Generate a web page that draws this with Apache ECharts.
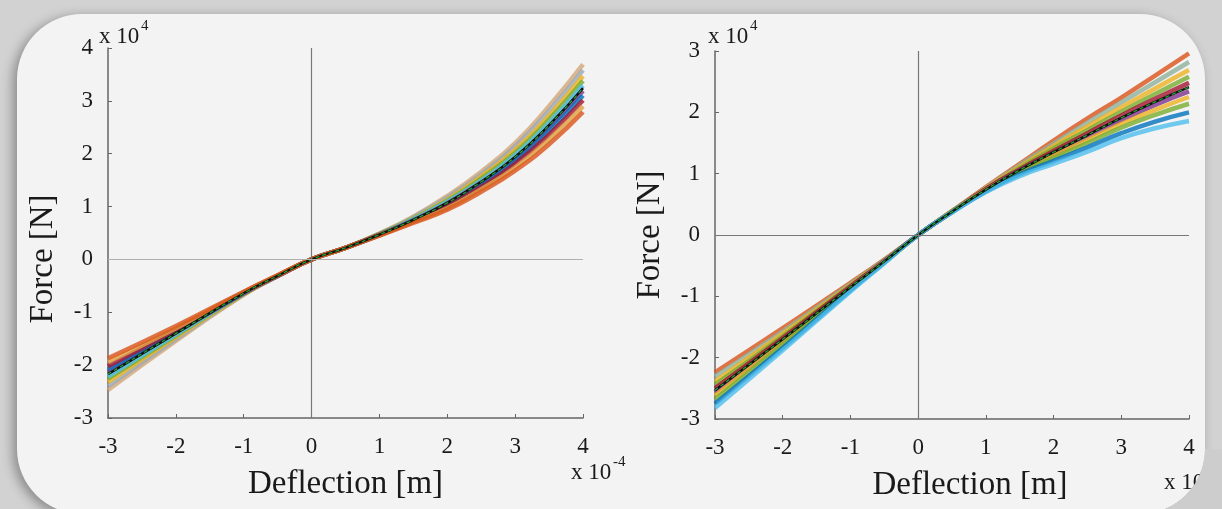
<!DOCTYPE html>
<html>
<head>
<meta charset="utf-8">
<script src="https://cdn.jsdelivr.net/npm/echarts@6/dist/echarts.min.js"></script>
<style>
    html, body { margin: 0; padding: 0; background: #d2d2d2; }
    #main { width: 1222px; height: 509px; }
</style>
</head>
<body>
<div id="main"></div>
<script>
// deflection samples (x 10^-4 m), shared by every curve
var deflection = [-3, -2, -1, -0.5, 0, 0.5, 1, 1.5, 2, 2.5, 3, 3.5, 4];

// left plot, force (x 10^4 N)
var leftMean = [-2.17, -1.40, -0.64, -0.31, 0, 0.22, 0.47, 0.75, 1.07, 1.47, 1.94, 2.54, 3.24];
var leftRuns = [
    [-2.47, -1.54, -0.67, -0.32, 0, 0.22, 0.49, 0.81, 1.20, 1.66, 2.20, 2.90, 3.69],
    [-2.40, -1.51, -0.66, -0.32, 0, 0.22, 0.48, 0.80, 1.17, 1.61, 2.14, 2.81, 3.58],
    [-2.32, -1.47, -0.66, -0.31, 0, 0.22, 0.48, 0.78, 1.13, 1.57, 2.07, 2.72, 3.47],
    [-2.26, -1.44, -0.65, -0.31, 0, 0.22, 0.48, 0.77, 1.11, 1.53, 2.02, 2.65, 3.38],
    [-2.21, -1.42, -0.64, -0.31, 0, 0.22, 0.47, 0.76, 1.09, 1.49, 1.97, 2.58, 3.29],
    [-2.13, -1.38, -0.64, -0.31, 0, 0.22, 0.47, 0.74, 1.06, 1.45, 1.91, 2.50, 3.19],
    [-2.08, -1.36, -0.63, -0.31, 0, 0.22, 0.46, 0.73, 1.03, 1.41, 1.86, 2.43, 3.10],
    [-2.02, -1.33, -0.62, -0.31, 0, 0.22, 0.46, 0.72, 1.01, 1.37, 1.81, 2.36, 3.01],
    [-1.94, -1.30, -0.62, -0.30, 0, 0.22, 0.46, 0.71, 0.97, 1.33, 1.74, 2.27, 2.90],
    [-1.87, -1.26, -0.61, -0.30, 0, 0.22, 0.45, 0.69, 0.94, 1.28, 1.68, 2.18, 2.79]
];

// right plot, force (x 10^4 N)
var rightMean = [-2.53, -1.70, -0.85, -0.43, 0, 0.38, 0.74, 1.06, 1.35, 1.63, 1.91, 2.17, 2.41];
var rightRuns = [
    [-2.24, -1.52, -0.78, -0.40, 0, 0.39, 0.78, 1.16, 1.54, 1.90, 2.24, 2.60, 2.96],
    [-2.31, -1.57, -0.80, -0.41, 0, 0.39, 0.77, 1.14, 1.49, 1.83, 2.16, 2.49, 2.82],
    [-2.39, -1.61, -0.82, -0.42, 0, 0.38, 0.76, 1.11, 1.45, 1.77, 2.08, 2.39, 2.69],
    [-2.44, -1.65, -0.83, -0.42, 0, 0.38, 0.75, 1.09, 1.41, 1.71, 2.01, 2.30, 2.58],
    [-2.50, -1.68, -0.84, -0.43, 0, 0.38, 0.75, 1.07, 1.37, 1.66, 1.95, 2.22, 2.48],
    [-2.56, -1.72, -0.86, -0.43, 0, 0.38, 0.74, 1.05, 1.33, 1.60, 1.87, 2.12, 2.34],
    [-2.62, -1.75, -0.87, -0.44, 0, 0.38, 0.73, 1.03, 1.29, 1.55, 1.81, 2.04, 2.25],
    [-2.68, -1.79, -0.89, -0.45, 0, 0.38, 0.72, 1.01, 1.26, 1.50, 1.75, 1.96, 2.14],
    [-2.75, -1.84, -0.90, -0.45, 0, 0.37, 0.71, 0.99, 1.21, 1.43, 1.66, 1.85, 2.00],
    [-2.82, -1.88, -0.92, -0.46, 0, 0.37, 0.70, 0.96, 1.16, 1.36, 1.58, 1.74, 1.86]
];

// line colours (top of the band first)
var leftColors = ['#d2a676', '#9aa9b8', '#EDB120', '#77AC30', '#4DBEEE', '#7E2F8E', '#0072BD', '#A2142F', '#e0a040', '#D95319'];
var rightColors = ['#D95319', '#8fb09a', '#EDB120', '#77AC30', '#A2142F', '#7E2F8E', '#EDB120', '#77AC30', '#0072BD', '#4DBEEE'];

var serif = "'Liberation Serif', 'DejaVu Serif', serif";
var ink = '#1a1a1a';

function toPoints(ys) {
    return deflection.map(function (x, i) { return [x, ys[i]]; });
}

function xAxisFor(idx, namePad) {
    return {
        gridIndex: idx,
        type: 'value',
        min: -3,
        max: 4,
        interval: 1,
        name: 'Deflection [m]',
        nameLocation: 'middle',
        nameGap: 50,
        nameTextStyle: { fontFamily: serif, fontSize: 33, color: ink, padding: namePad },
        axisLine: { onZero: false, lineStyle: { color: '#666', width: 1.5 } },
        axisTick: { inside: true, length: 4, lineStyle: { color: '#666' } },
        axisLabel: { fontFamily: serif, fontSize: 23, color: ink, margin: 17 },
        splitLine: { show: false }
    };
}

function yAxisFor(idx, min, max, namePad) {
    return {
        gridIndex: idx,
        type: 'value',
        min: min,
        max: max,
        interval: 1,
        name: 'Force [N]',
        nameLocation: 'middle',
        nameGap: 48,
        nameTextStyle: { fontFamily: serif, fontSize: 33, color: ink, padding: namePad },
        axisLine: { onZero: false, show: true, lineStyle: { color: '#666', width: 1.5 } },
        axisTick: { inside: true, length: 4, lineStyle: { color: '#666' } },
        axisLabel: { fontFamily: serif, fontSize: 23, color: ink, margin: 15 },
        splitLine: { show: false }
    };
}

var series = [];

function addPlot(idx, runs, colors, mean, hColor, vColor) {
    runs.forEach(function (run, i) {
        var s = {
            type: 'line',
            xAxisIndex: idx,
            yAxisIndex: idx,
            data: toPoints(run),
            smooth: true,
            symbol: 'none',
            silent: true,
            lineStyle: { color: colors[i], width: 4.5, opacity: 0.8 }
        };
        if (i === 0) {
            s.markLine = {
                silent: true,
                symbol: 'none',
                label: { show: false },
                data: [
                    { xAxis: 0, lineStyle: { color: vColor, width: 1.2, type: 'solid' } },
                    { yAxis: 0, lineStyle: { color: hColor, width: 1.2, type: 'solid' } }
                ]
            };
        }
        series.push(s);
    });
    // mean curve: black, with a green dashed line on top
    series.push({
        type: 'line', xAxisIndex: idx, yAxisIndex: idx,
        data: toPoints(mean), smooth: true, symbol: 'none', silent: true,
        lineStyle: { color: '#111', width: 2.5 }
    });
    series.push({
        type: 'line', xAxisIndex: idx, yAxisIndex: idx,
        data: toPoints(mean), smooth: true, symbol: 'none', silent: true,
        lineStyle: { color: '#1fa830', width: 1.2, type: [4, 3] }
    });
}

addPlot(0, leftRuns, leftColors, leftMean, '#b0b0b0', '#777');
addPlot(1, rightRuns, rightColors, rightMean, '#777', '#777');

function sciText(x, y, exp) {
    return [
        { type: 'text', z: 10, style: { text: 'x 10', x: x, y: y, font: '23px ' + serif, fill: ink, verticalAlign: 'middle' } },
        { type: 'text', z: 10, style: { text: exp, x: x + 42, y: y - 11, font: '15px ' + serif, fill: ink, verticalAlign: 'middle' } }
    ];
}

// outside of the panel's bottom-right rounded corner
var cornerMask = [[1222, 449], [1222, 509]];
for (var a = 90; a >= 0; a -= 5) {
    var rad = a * Math.PI / 180;
    cornerMask.push([1140 + 65 * Math.cos(rad), 449 + 65 * Math.sin(rad)]);
}

var chart = echarts.init(document.getElementById('main'));

var option = {
    animation: false,
    backgroundColor: '#d2d2d2',
    grid: [
        { left: 108, top: 48, width: 475, height: 370 },
        { left: 715, top: 51, width: 474, height: 368 }
    ],
    xAxis: [xAxisFor(0, [0, 0, 0, 0]), xAxisFor(1, [0, 0, 0, 36])],
    yAxis: [yAxisFor(0, -3, 4, [0, 52, 0, 0]), yAxisFor(1, -3, 3, [0, 0, 0, 0])],
    graphic: [
        {
            type: 'rect', z: -10, silent: true,
            shape: { x: 17, y: 14, width: 1188, height: 500, r: 65 },
            style: { fill: '#f3f3f3', shadowBlur: 12, shadowOffsetX: -4, shadowOffsetY: 3, shadowColor: 'rgba(0,0,0,0.35)' }
        },
        // the corner hides part of the right exponent label
        {
            type: 'polygon', z: 20, silent: true,
            shape: { points: cornerMask },
            style: { fill: '#cdcdcd' }
        }
    ].concat(sciText(99, 37, '4'), sciText(708, 37, '4'), sciText(571, 473, '-4'), sciText(1164, 483, '-4')),
    series: series
};

chart.setOption(option);
</script>
</body>
</html>
